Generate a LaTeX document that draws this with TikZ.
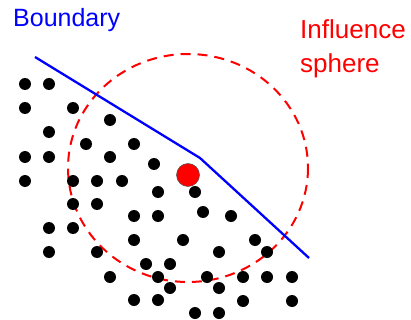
\documentclass[tikz,border=0pt]{standalone}
\usepackage{fontspec}
\setmainfont{Liberation Sans}
\definecolor{bblue}{RGB}{0,0,255}
\definecolor{rred}{RGB}{255,0,0}
\begin{document}
\begin{tikzpicture}[x=1pt,y=-1pt,
  dot/.style={circle,fill=black,inner sep=0pt,minimum size=12pt},
  bigdot/.style={circle,fill=rred,draw=black!70,line width=0.5pt,inner sep=0pt,minimum size=23pt},
  lbl/.style={anchor=base west,inner sep=0pt},
  bline/.style={draw=bblue,line width=2.3pt},
  sphereline/.style={draw=rred,line width=2pt,dash pattern=on 10pt off 7pt}]
\useasboundingbox (0,0) rectangle (411,320);
% influence sphere
\draw[sphereline] (188,168) ellipse [x radius=120, y radius=114];
% dots
\foreach \x/\y [count=\i] in {25/84,49/84,25/108,73/108,110/120,49/132,86/144,134/144,
  25/157,49/157,110/157,154/164,25/181,73/181,97/181,122/181,158/192,195/192,
  73/204,97/204,203/212,134/216,158/216,231/216,49/228,73/228,134/240,183/240,255/240,
  49/252,97/252,219/252,267/252,146/264,170/264,110/277,158/277,207/277,243/277,267/277,292/277,
  170/288,219/288,134/300,158/300,243/301,292/301,195/313,219/313}
  \node[dot] (d\i) at (\x,\y) {};
% boundary
\coordinate (b1) at (35,57);
\coordinate (b2) at (200,158);
\coordinate (b3) at (309,258);
\draw[bline] (b1) -- (b2) -- (b3);
% center particle
\node[bigdot] (p) at (188,175) {};
% labels
\node[lbl,text=bblue,font=\fontsize{25}{30}\selectfont] (tb) at (13,27) {Boundary};
\node[lbl,text=rred,font=\fontsize{26}{34}\selectfont] (ti) at (300,39) {Influence};
\node[lbl,text=rred,font=\fontsize{26}{34}\selectfont] (ts) at (300,73) {sphere};
\end{tikzpicture}
\end{document}
